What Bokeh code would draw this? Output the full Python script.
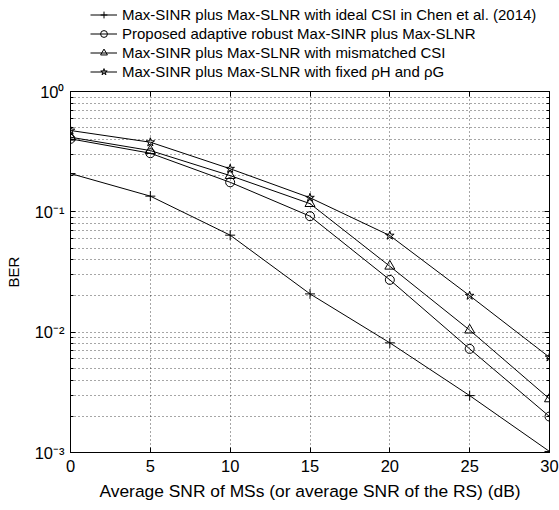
from bokeh.plotting import figure
from bokeh.layouts import column
from bokeh.models import (Range1d, FixedTicker, Legend, LegendItem, LinearAxis, LogAxis,
                          CustomJSTickFormatter)
from bokeh.embed import file_html
from bokeh.resources import INLINE

snr = [0, 5, 10, 15, 20, 25, 30]
ber_ideal = [0.208, 0.135, 0.064, 0.0208, 0.00815, 0.00297, 0.00102]
ber_proposed = [0.404, 0.307, 0.176, 0.092, 0.0272, 0.00726, 0.00199]
ber_mismatched = [0.417, 0.323, 0.200, 0.117, 0.0353, 0.0104, 0.00279]
ber_fixed = [0.474, 0.379, 0.228, 0.131, 0.0635, 0.0201, 0.00618]

labels = [
    "Max-SINR plus Max-SLNR with ideal CSI in Chen et al. (2014)",
    "Proposed adaptive robust Max-SINR plus Max-SLNR",
    "Max-SINR plus Max-SLNR with mismatched CSI",
    "Max-SINR plus Max-SLNR with fixed ρH and ρG",
]
x_ticks = [0, 5, 10, 15, 20, 25, 30]
y_ticks = [1e-3, 1e-2, 1e-1, 1.0]
y_tick_labels = {1e-3: "10⁻³", 1e-2: "10⁻²", 1e-1: "10⁻¹", 1.0: "10⁰"}

FONT = "Liberation Sans"

p = figure(width=559, height=430, output_backend="svg", toolbar_location=None,
           y_axis_type="log", x_range=Range1d(0, 30), y_range=Range1d(1e-3, 1.0),
           min_border_left=70, min_border_right=10, min_border_top=11, min_border_bottom=58)
p.background_fill_color = "white"
p.border_fill_color = "white"
p.outline_line_color = "black"
p.outline_line_width = 1

minor = [m * d for d in [1e-3, 1e-2, 1e-1] for m in range(2, 10)]
p.yaxis.ticker = FixedTicker(ticks=y_ticks, minor_ticks=minor)
p.xaxis.ticker = FixedTicker(ticks=x_ticks, minor_ticks=[])
p.yaxis.major_label_overrides = {k: v for k, v in y_tick_labels.items()}

for ax in [p.xaxis[0], p.yaxis[0]]:
    ax.major_tick_in = 5
    ax.major_tick_out = 0
    ax.minor_tick_in = 3
    ax.minor_tick_out = 0
    ax.axis_line_color = "black"
    ax.major_label_text_font = FONT
    ax.major_label_text_font_size = "16.5px"
    ax.major_label_text_color = "black"
    ax.axis_label_text_font = FONT
    ax.axis_label_text_font_style = "normal"
    ax.axis_label_text_color = "black"

p.xaxis.axis_label_text_font_size = "17.4px"
p.yaxis.axis_label_text_font_size = "15px"
p.xaxis.axis_label = "Average SNR of MSs (or average SNR of the RS) (dB)"
p.yaxis.axis_label = "BER"
p.xaxis.major_label_standoff = 7
p.xaxis.axis_label_standoff = 6
p.yaxis.major_label_standoff = 6
p.yaxis.axis_label_standoff = 10

top_ax = LinearAxis(ticker=FixedTicker(ticks=x_ticks, minor_ticks=[]),
                    formatter=CustomJSTickFormatter(code="return '';"),
                    major_label_standoff=0,
                    major_tick_in=5, major_tick_out=0, minor_tick_in=0, minor_tick_out=0)
right_ax = LogAxis(ticker=FixedTicker(ticks=y_ticks, minor_ticks=minor),
                   formatter=CustomJSTickFormatter(code="return '';"),
                   major_label_standoff=0,
                   major_tick_in=5, major_tick_out=0, minor_tick_in=3, minor_tick_out=0)
p.add_layout(top_ax, "above")
p.add_layout(right_ax, "right")

p.xgrid.ticker = FixedTicker(ticks=x_ticks, minor_ticks=[])
p.ygrid.ticker = FixedTicker(ticks=y_ticks, minor_ticks=minor)
for g in [p.xgrid[0], p.ygrid[0]]:
    g.grid_line_color = "black"
    g.grid_line_dash = "1 3"
    g.grid_line_alpha = 0.7
p.ygrid.minor_grid_line_color = "black"
p.ygrid.minor_grid_line_dash = "1 3"
p.ygrid.minor_grid_line_alpha = 0.7

series = [
    (ber_ideal, "cross", 10),
    (ber_proposed, "circle", 9),
    (ber_mismatched, "triangle", 10),
    (ber_fixed, "star", 9),
]
for ys, marker, size in series:
    p.line(snr, ys, line_color="black", line_width=1)
    p.scatter(snr, ys, marker=marker, size=size, line_color="black",
              fill_color=None, line_width=1)

# legend strip above the plot (its renderers lie outside its visible range)
lp = figure(width=559, height=80, output_backend="svg", toolbar_location=None,
            x_range=Range1d(100, 101), y_range=Range1d(100, 101),
            min_border=0, x_axis_location=None, y_axis_location=None)
lp.outline_line_color = None
lp.grid.visible = False
lp.background_fill_color = "white"
lp.border_fill_color = "white"
items = []
for (ys, marker, size), lab in zip(series, labels):
    lr = lp.line(snr, ys, line_color="black", line_width=1)
    sr = lp.scatter(snr, ys, marker=marker, size=size - 2, line_color="black",
                    fill_color=None, line_width=1)
    items.append(LegendItem(label=lab, renderers=[lr, sr], index=0))

legend = Legend(items=items, location=(20, 0), orientation="vertical")
legend.border_line_color = None
legend.background_fill_alpha = 0
legend.label_text_font = FONT
legend.label_text_font_size = "15px"
legend.label_text_color = "black"
legend.glyph_width = 27
legend.glyph_height = 17
legend.label_height = 17
legend.spacing = 2
legend.label_standoff = 5
legend.margin = 0
legend.padding = 0
lp.add_layout(legend)

layout = column(lp, p, spacing=0)
open("out.html", "w").write(file_html(layout, INLINE))
